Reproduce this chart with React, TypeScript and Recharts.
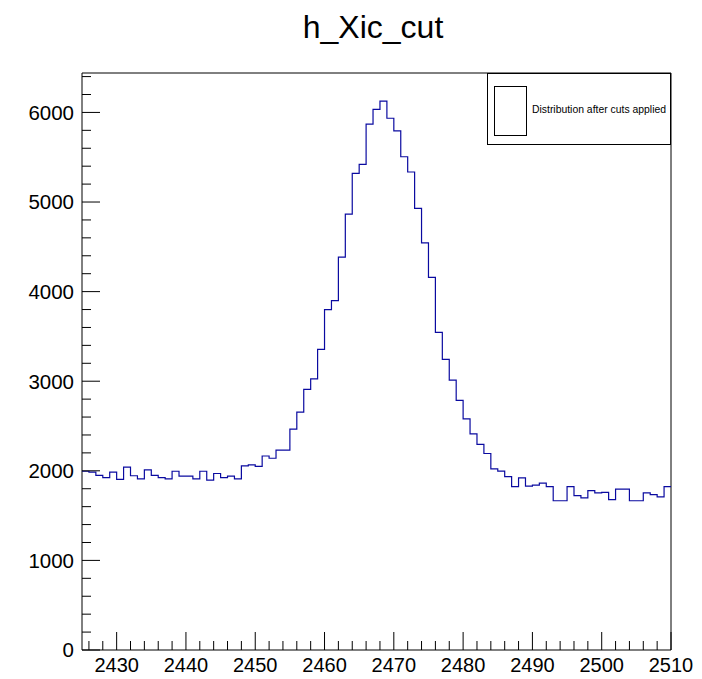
import { ComposedChart, Line, XAxis, YAxis, ReferenceArea } from 'recharts';

// h_Xic_cut: 85 bins of width 1 from 2425 to 2510
const binLow = 2425;
const binWidth = 1;

const counts: number[] = [
  // 2425 - 2447
  1995, 1985, 1950, 1925, 1985, 1905, 2040, 1945, 1910, 2010, 1950, 1925,
  1910, 1995, 1940, 1940, 1910, 1995, 1895, 1970, 1925, 1940, 1910,
  // 2448 - 2459
  2055, 2067, 2050, 2165, 2140, 2230, 2230, 2465, 2655, 2910, 3025, 3355,
  // 2460 - 2473
  3800, 3900, 4385, 4865, 5320, 5420, 5870, 6035, 6125, 5935, 5795, 5505,
  5335, 4930,
  // 2474 - 2485
  4543, 4159, 3544, 3243, 3012, 2785, 2580, 2413, 2296, 2193, 2022, 1997,
  // 2486 - 2509
  1936, 1824, 1922, 1830, 1840, 1862, 1824, 1666, 1666, 1824, 1722, 1698,
  1778, 1754, 1759, 1679, 1795, 1795, 1666, 1666, 1754, 1735, 1708, 1824,
];

const xMajorTicks = [2430, 2440, 2450, 2460, 2470, 2480, 2490, 2500, 2510];
const yMajorTicks = [0, 1000, 2000, 3000, 4000, 5000, 6000];

const xDomain: [number, number] = [2425, 2510];
const yDomain: [number, number] = [0, 6440];

const legendLabel = 'Distribution after cuts applied';
const title = 'h_Xic_cut';

// minor divisions: every 2 on x, every 200 on y
const xTicks: number[] = [];
for (let v = 2426; v <= 2510; v += 2) xTicks.push(v);
const yTicks: number[] = [];
for (let v = 0; v <= 6400; v += 200) yTicks.push(v);

// step line needs a closing point at the upper edge of the last bin
const data = counts.map((c, i) => ({ x: binLow + i * binWidth, count: c }));
data.push({ x: binLow + counts.length * binWidth, count: counts[counts.length - 1] });

const FONT = '"Liberation Sans", Arial, Helvetica, sans-serif';

const XTick = (props: any) => {
  const { x, y, payload } = props;
  const major = xMajorTicks.includes(payload.value);
  return (
    <g>
      <line x1={x} x2={x} y1={y} y2={y - (major ? 18 : 9)} stroke="#000" strokeWidth={1} />
      {major && (
        <text x={x} y={y + 22} textAnchor="middle" fontSize={20} fontFamily={FONT} fill="#000">
          {payload.value}
        </text>
      )}
    </g>
  );
};

const YTick = (props: any) => {
  const { x, y, payload } = props;
  const major = yMajorTicks.includes(payload.value);
  return (
    <g>
      <line x1={x} x2={x + (major ? 18 : 9)} y1={y} y2={y} stroke="#000" strokeWidth={1} />
      {major && (
        <text x={x - 8} y={y} dy="0.36em" textAnchor="end" fontSize={20.5} fontFamily={FONT} fill="#000">
          {payload.value}
        </text>
      )}
    </g>
  );
};

export default function App() {
  return (
    <div style={{ position: 'relative', width: 690, height: 671, background: '#fff' }}>
      <ComposedChart
        width={690}
        height={671}
        data={data}
        margin={{ top: 65, right: 27, bottom: 4, left: 0 }}
      >
        <text x={365} y={30} textAnchor="middle" fontSize={32} fontFamily={FONT} fill="#000">
          {title}
        </text>
        <XAxis
          dataKey="x"
          type="number"
          domain={xDomain}
          ticks={xTicks}
          interval={0}
          height={25}
          axisLine={false}
          tickLine={false}
          tickSize={0}
          tickMargin={0}
          tick={<XTick />}
        />
        <YAxis
          type="number"
          domain={yDomain}
          ticks={yTicks}
          interval={0}
          width={74}
          axisLine={false}
          tickLine={false}
          tickSize={0}
          tickMargin={0}
          tick={<YTick />}
        />
        <Line
          type="stepAfter"
          dataKey="count"
          stroke="#0a0aa0"
          strokeWidth={1.2}
          dot={false}
          activeDot={false}
          isAnimationActive={false}
        />
        <ReferenceArea
          x1={xDomain[0]}
          x2={xDomain[1]}
          y1={yDomain[0]}
          y2={yDomain[1]}
          fill="none"
          stroke="#000"
          strokeWidth={1}
          isAnimationActive={false}
        />
      </ComposedChart>
      <div
        style={{
          position: 'absolute',
          left: 479,
          top: 65,
          width: 184,
          height: 72,
          boxSizing: 'border-box',
          border: '1px solid #000',
          background: '#fff',
          fontFamily: FONT,
        }}
      >
        <div
          style={{
            position: 'absolute',
            left: 6,
            top: 12,
            width: 33,
            height: 50,
            boxSizing: 'border-box',
            border: '1px solid #000',
          }}
        />
        <div
          style={{
            position: 'absolute',
            left: 44,
            top: 30,
            fontSize: 10.4,
            lineHeight: '12px',
            whiteSpace: 'nowrap',
            color: '#000',
          }}
        >
          {legendLabel}
        </div>
      </div>
    </div>
  );
}
